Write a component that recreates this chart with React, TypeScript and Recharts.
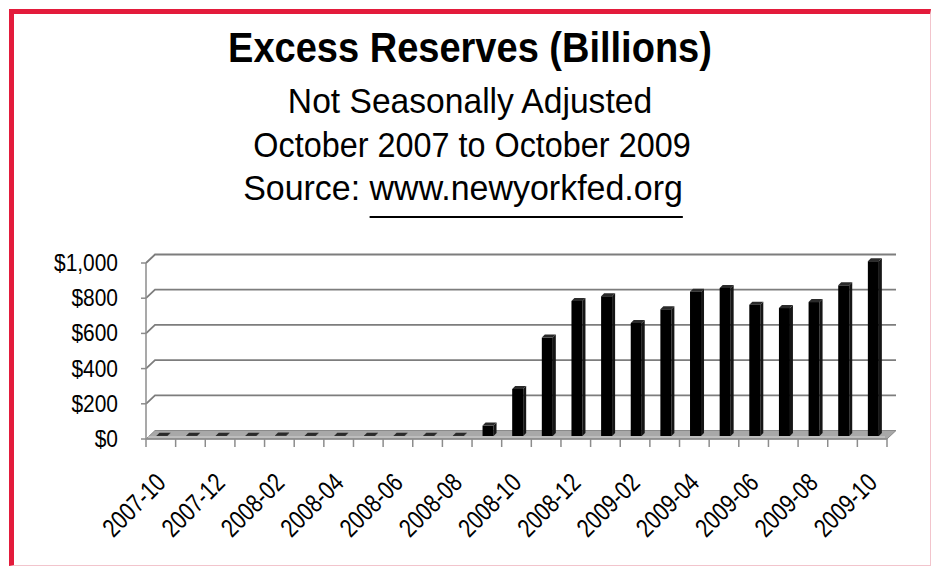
import { Bar, BarChart, CartesianGrid, XAxis, YAxis } from 'recharts';

const MONTHS = [
    '2007-10', '2007-11', '2007-12', '2008-01', '2008-02', '2008-03', '2008-04',
    '2008-05', '2008-06', '2008-07', '2008-08', '2008-09', '2008-10', '2008-11',
    '2008-12', '2009-01', '2009-02', '2009-03', '2009-04', '2009-05', '2009-06',
    '2009-07', '2009-08', '2009-09', '2009-10',
];
// Excess reserves, billions of dollars
const RESERVES = [
    1.8, 1.6, 1.9, 1.8, 2.2, 1.8, 1.7, 2.0, 1.9, 2.1, 1.9, 59, 267, 559,
    767, 794, 642, 720, 820, 841, 746, 727, 761, 856, 993,
];
const Y_TICKS = [0, 200, 400, 600, 800, 1000];

const TITLE = 'Excess Reserves (Billions)';
const SUBTITLE_1 = 'Not Seasonally Adjusted';
const SUBTITLE_2 = 'October 2007 to October 2009';
const SOURCE_LABEL = 'Source: ';
const SOURCE_URL = 'www.newyorkfed.org';

// no condensed face installed, so Liberation Sans gets squeezed horizontally
const FONT = "'Liberation Sans', Arial, sans-serif";
const RED = '#e31b3b';
const GRID = '#7d7d7d';

const W = 932;
const H = 567;
const MARGIN = { top: 263, right: 45, bottom: 28, left: 0 };
const X_AXIS_H = 100;
const PLOT_BOTTOM = H - MARGIN.bottom - X_AXIS_H;
// depth of the fake 3D box (back wall offset)
const DEPTH = { x: 9, y: 8.5 };

const data = MONTHS.map((month, i) => ({ month, value: RESERVES[i] }));

function WallLine(props: any) {
    const { x1, x2, y1 } = props;
    const bx = DEPTH.x;
    const by = DEPTH.y;
    if (Math.abs(y1 - PLOT_BOTTOM) < 1) {
        // floor of the 3D box
        return (
            <g>
                <polygon
                    points={`${x1},${y1} ${x2},${y1} ${x2 + bx},${y1 - by} ${x1 + bx},${y1 - by}`}
                    fill="#a8a8a8" stroke="#8a8a8a" strokeWidth={1}
                />
                <line x1={x1 + 2} x2={x2 - 2} y1={y1 - 2} y2={y1 - 2} stroke="#c4c4c4" strokeWidth={1.5} />
            </g>
        );
    }
    return (
        <polyline
            points={`${x1},${y1} ${x1 + bx},${y1 - by} ${x2 + bx},${y1 - by}`}
            fill="none" stroke={GRID} strokeWidth={1.8}
        />
    );
}

function BoundaryTick(props: any) {
    const { x1, y2 } = props;
    return <line x1={x1} x2={x1} y1={y2} y2={y2 + 8} stroke="#8c8c8c" strokeWidth={1.5} />;
}

function Bar3D(props: any) {
    const { x, y, width, height } = props;
    const d = 3;
    const left = x + 1.5;
    const top = y - 3;
    const right = left + width;
    const bottom = top + height;
    return (
        <g>
            <polygon
                points={`${right},${top} ${right + d},${top - d} ${right + d},${bottom - d} ${right},${bottom}`}
                fill="#161616"
            />
            <polygon
                points={`${left},${top} ${left + d},${top - d} ${right + d},${top - d} ${right},${top}`}
                fill="#2a2a2a"
            />
            <rect x={left} y={top} width={width} height={Math.max(height, 0)} fill="#000" />
        </g>
    );
}

function MonthTick({ x, y, payload }: any) {
    return (
        <text
            transform={`translate(${x} ${y}) rotate(-45) scale(0.8 1)`}
            dy="0.35em" textAnchor="end"
            fontFamily={FONT} fontSize={26} fill="#000"
        >
            {payload.value}
        </text>
    );
}

function DollarTick({ x, y, payload }: any) {
    return (
        <text
            transform={`translate(${x} ${y}) scale(0.91 1)`}
            dy="0.35em" textAnchor="end"
            fontFamily={FONT} fontSize={23} fill="#000"
        >
            {`$${payload.value.toLocaleString('en-US')}`}
        </text>
    );
}

export default function App() {
    const lineStyle = {
        position: 'absolute' as const, left: 4, width: W, textAlign: 'center' as const,
        fontFamily: FONT, color: '#000', whiteSpace: 'nowrap' as const,
    };
    const sub = { ...lineStyle, fontSize: 35, lineHeight: '35px' };

    return (
        <div style={{ position: 'fixed', left: 0, top: 0, width: W, height: H, background: '#fff', overflow: 'hidden' }}>
            <div
                style={{
                    position: 'absolute', left: 9, top: 9, width: 922, height: 557, boxSizing: 'border-box',
                    borderTop: `5px solid ${RED}`, borderLeft: `5px solid ${RED}`,
                    borderRight: '1px solid #f2c4cc', borderBottom: '1px solid #f2c4cc',
                }}
            />
            <div style={{ ...lineStyle, top: 27, fontSize: 42, lineHeight: '42px', fontWeight: 700, transform: 'scaleX(0.905)' }}>
                {TITLE}
            </div>
            <div style={{ ...sub, top: 83, transform: 'scaleX(0.96)' }}>{SUBTITLE_1}</div>
            <div style={{ ...sub, top: 127, left: 6, transform: 'scaleX(0.925)' }}>{SUBTITLE_2}</div>
            <div style={{ ...sub, top: 170, left: -3, transform: 'scaleX(0.97)' }}>
                {SOURCE_LABEL}
                <span style={{ textDecoration: 'underline', textUnderlineOffset: '16px', textDecorationThickness: '2px' }}>
                    {SOURCE_URL}
                </span>
            </div>
            <div style={{ position: 'absolute', left: 0, top: 0 }}>
                <BarChart width={W} height={H} data={data} margin={MARGIN}>
                    <CartesianGrid
                        horizontal={WallLine}
                        vertical={BoundaryTick}
                        verticalCoordinatesGenerator={({ offset }: any) =>
                            MONTHS.map((_, i) => offset.left + (i * offset.width) / MONTHS.length)
                                .concat(offset.left + offset.width)
                        }
                    />
                    <XAxis
                        dataKey="month"
                        interval={1}
                        height={X_AXIS_H}
                        tick={<MonthTick />}
                        tickLine={false}
                        tickSize={8}
                        tickMargin={31}
                        axisLine={{ stroke: '#8c8c8c', strokeWidth: 1.5 }}
                    />
                    <YAxis
                        width={146}
                        domain={[0, 1000]}
                        ticks={Y_TICKS}
                        interval={0}
                        tickSize={5}
                        tickMargin={23}
                        tickLine={{ stroke: '#8c8c8c', strokeWidth: 1.5 }}
                        axisLine={{ stroke: '#8c8c8c', strokeWidth: 1.5 }}
                        tick={<DollarTick />}
                    />
                    <Bar dataKey="value" barSize={11} shape={Bar3D} isAnimationActive={false} />
                </BarChart>
            </div>
        </div>
    );
}
